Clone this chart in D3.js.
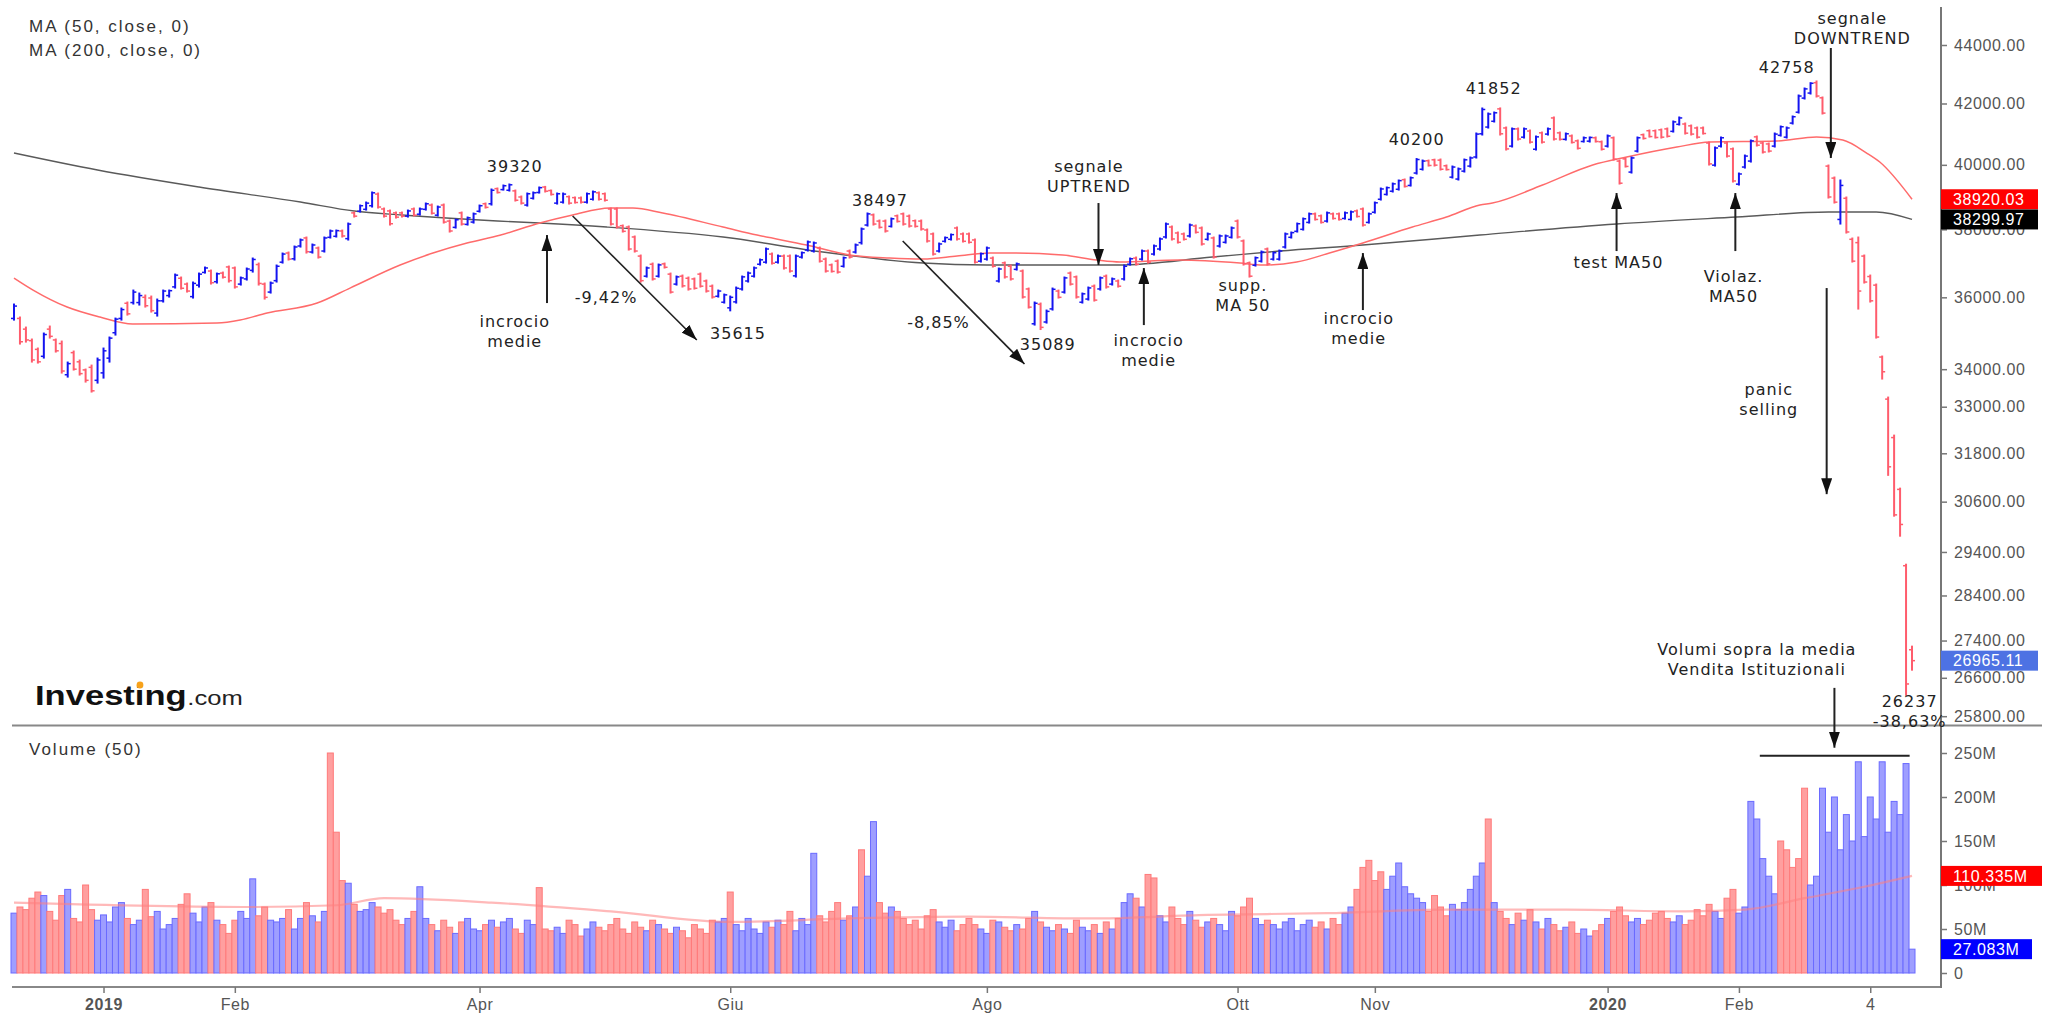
<!DOCTYPE html>
<html>
<head>
<meta charset="utf-8">
<script src="https://cdn.jsdelivr.net/npm/d3@7"></script>
<style>
  body { margin: 0; background: #fff; }
  svg { display: block; font-family: "Liberation Sans", Arial, sans-serif; }
  .ann { font-family: "DejaVu Sans", sans-serif; font-size: 16px; fill: #222; letter-spacing: 1px; }
  .axis text { font-size: 16px; fill: #555; letter-spacing: 0.6px; font-family: "Liberation Sans", Arial, sans-serif; }
  .axis line { stroke: #777; stroke-width: 1.5; }
</style>
</head>
<body>
<svg id="chart" width="2051" height="1013"></svg>
<script>
// daily bars, Dec 2018 -> Mar 2020
const openP = [
  35400,35400,35100,34780,34540,34350,35100,34800,34700,33850,
  34450,34200,33980,34050,33700,33900,34300,35000,35400,35830,
  35850,35850,36000,35980,35550,35900,36050,36300,36550,36380,
  36020,36350,36720,36760,36450,36700,36880,36850,36380,36530,
  36780,36950,36380,36150,36480,37020,37290,37120,37500,37740,
  37320,37440,37350,37760,37790,37950,37720,38500,38550,38610,
  38720,39080,38620,38560,38500,38500,38400,38620,38460,38610,
  38740,38430,38740,38250,38060,38500,38150,38220,38550,38780,
  38780,39250,39220,39200,39180,38990,38740,38950,39130,39300,
  39190,38800,38830,39000,38970,38960,38830,38920,39120,39090,
  38620,38620,38110,38070,37770,37200,36610,36960,36610,36970,
  36670,36380,36610,36550,36530,36670,36470,36320,36030,35860,
  35700,35870,36240,36470,36610,36960,37020,37260,37020,37200,
  37200,36620,37170,37380,37350,37440,37110,36940,37050,36900,
  37350,37320,37600,38130,38440,38250,38250,38090,38410,38470,
  38400,38260,38250,37980,37860,37350,37640,37700,38040,37860,
  37860,37680,37050,37110,37140,36470,37000,36900,36810,36760,
  36240,35250,35800,35300,35670,36180,36150,36700,36590,35860,
  35950,36320,36240,36610,36380,36470,36530,36960,37140,37110,
  37350,37260,37410,37770,38070,37890,37860,37800,38100,38040,
  37700,37740,37500,37610,37760,38250,37650,37000,36930,37050,
  37410,37110,37110,37470,37760,37940,38000,38210,38470,38410,
  38250,38470,38470,38330,38300,38560,38620,38210,38520,38920,
  39070,39170,39230,39530,39350,39740,39860,40130,40160,40150,
  39970,39610,39550,39800,39960,40250,41000,41220,41410,41820,
  41190,40600,41160,40890,41090,40500,41030,40990,41520,41030,
  40820,40930,40770,40750,40760,40870,40740,40600,40870,40120,
  40190,39770,40440,40970,41100,41100,41130,41160,41080,41310,
  41320,41260,41190,41190,40700,39990,40600,40700,40510,39390,
  39930,40120,40900,40700,40670,40600,40950,40890,41350,41710,
  42180,42350,42700,42190,39960,39580,38300,38950,37700,37600,
  37200,36600,36350,34330,33200,32200,30900,29080,27200
];
const highP = [
  35808,35440,35158,34825,34576,34991,35186,34825,34769,34193,
  34494,34248,34003,34111,34302,34576,34880,35410,35694,35865,
  36208,36122,36065,36036,35950,36208,36208,36672,36585,36411,
  36440,36701,36877,36789,36701,36730,36906,36877,36585,36848,
  37142,36994,36411,36440,36936,37290,37320,37498,37708,37768,
  37558,37468,37768,37978,37978,37978,38190,38526,38741,38834,
  39145,39113,38649,38587,38526,38526,38587,38649,38649,38803,
  38772,38710,38772,38282,38312,38526,38373,38495,38741,38803,
  39238,39269,39363,39394,39206,39020,39113,39145,39300,39320,
  39206,39113,39113,39020,38989,38989,39113,39175,39145,39113,
  38649,38649,38130,38100,37798,37231,36877,36994,36965,36994,
  36701,36614,36643,36585,36556,36701,36498,36353,36208,36093,
  36036,36295,36614,36730,36877,37113,37438,37290,37231,37231,
  37231,37231,37320,37648,37618,37468,37142,36965,37083,37172,
  37379,37558,38039,38497,38465,38282,38282,38343,38434,38495,
  38434,38282,38282,38009,37888,37588,37768,37858,38070,37888,
  37888,37708,37290,37468,37172,36848,37024,36936,36994,36789,
  36266,35865,35836,35637,36266,36208,36585,36730,36614,36122,
  36295,36353,36585,36643,36556,36498,36936,37142,37172,37379,
  37379,37528,37738,38190,38100,37918,37888,38160,38130,38070,
  37888,37768,37828,37828,38070,38282,37678,37024,37172,37349,
  37438,37320,37379,37888,37918,38190,38343,38495,38495,38434,
  38526,38495,38495,38526,38556,38587,38649,38495,38834,39269,
  39300,39425,39520,39551,39614,40200,40153,40153,40180,40185,
  39994,39962,39898,40185,40249,41025,41849,41683,41716,41852,
  41221,41188,41188,41188,41123,40927,41057,41188,41551,41057,
  41025,40960,40797,40895,40895,40895,40765,40960,40895,40153,
  40217,40249,40895,40992,41123,41123,41155,41188,41419,41551,
  41353,41287,41221,41221,40732,40571,40895,40732,40538,39740,
  40313,40797,40927,40732,40700,41025,41254,41221,41584,42284,
  42520,42700,42758,42217,39994,39614,39520,38989,37738,37768,
  37231,36643,36382,34357,33254,32263,30931,29115,27278
];
const lowP = [
  35354,34686,34741,34193,34166,34302,34852,34466,33895,33787,
  33976,33841,33653,33387,33626,33760,34193,34935,35354,35495,
  35808,35779,35722,35580,35467,35865,36007,36266,36237,36151,
  35979,36295,36701,36382,36411,36556,36440,36266,36353,36498,
  36730,36353,35950,36122,36440,36994,37083,37083,37468,37290,
  37290,37142,37320,37738,37768,37768,37678,38373,38526,38587,
  38680,38649,38373,38130,38343,38373,38373,38404,38434,38587,
  38465,38404,38190,37918,38039,38130,38130,38190,38526,38649,
  38741,39113,39206,39175,38865,38772,38710,38927,39113,39145,
  39051,38772,38803,38772,38803,38803,38803,38896,38896,38865,
  38130,38039,37918,37379,37320,36440,36585,36498,36585,36848,
  36122,36353,36295,36208,36237,36295,36151,35979,36007,35836,
  35615,35836,36208,36440,36585,36936,36994,36965,36994,36818,
  36730,36585,37142,37349,37320,37024,36730,36730,36701,36877,
  37142,37290,37558,38100,38130,38039,37918,38070,38221,38130,
  38070,38070,37978,37618,37231,37320,37618,37678,37678,37618,
  37588,36994,37024,37083,36877,36440,36556,36498,36789,35979,
  35694,35214,35089,35270,35637,35979,36122,36353,35979,35836,
  35922,35893,36208,36266,36353,36295,36498,36936,36936,37083,
  36994,37231,37379,37738,37678,37588,37678,37768,37888,37528,
  37678,37142,37468,37588,37738,37738,36936,36585,36906,37024,
  36936,37083,37083,37438,37738,37918,37978,38190,38282,38190,
  38221,38312,38282,38312,38282,38373,38100,38190,38495,38896,
  39051,39145,39206,39300,39332,39709,39835,39962,39962,39835,
  39835,39583,39520,39772,39930,40217,40960,41188,41386,40960,
  40474,40571,40797,40862,40700,40474,40700,40960,40797,40797,
  40797,40700,40506,40732,40732,40732,40474,40571,40153,39394,
  39930,39740,40410,40829,40895,40862,40862,40895,41057,41287,
  40992,40960,40862,40992,39994,39962,40571,40249,39457,39363,
  39898,40089,40603,40378,40410,40571,40927,40862,41320,41683,
  42150,42318,42217,41650,38958,38803,38160,37888,37024,35665,
  36411,35865,34852,33734,31247,30249,29771,26237,26762
];
const closeP = [
  35750,34750,34800,34250,34200,34950,34900,34500,33950,34150,
  34000,33880,33700,33420,34250,34500,34850,35380,35650,35530,
  36150,36050,35760,35620,35900,36180,36190,36640,36260,36180,
  36400,36670,36850,36420,36680,36580,36480,36300,36560,36820,
  37100,36400,36000,36410,36900,37260,37110,37470,37680,37330,
  37530,37170,37740,37950,37960,37800,38160,38400,38720,38800,
  39120,38680,38400,38170,38370,38400,38560,38430,38620,38780,
  38490,38680,38220,37950,38290,38160,38350,38470,38720,38670,
  39200,39130,39340,39370,38890,38800,39090,39120,39280,39170,
  39070,39090,39080,38800,38820,38830,39090,39150,38920,38890,
  38160,38070,37940,37410,37350,36480,36850,36530,36940,36870,
  36150,36590,36330,36240,36260,36320,36180,36010,36180,36070,
  36000,36260,36590,36700,36850,37090,37410,36990,37200,36850,
  36760,37200,37300,37620,37590,37050,36760,36750,36730,37150,
  37170,37530,38010,38470,38160,38060,37950,38320,38240,38160,
  38100,38090,38010,37650,37260,37560,37750,37840,37710,37640,
  37610,37020,37270,37440,36900,36820,36590,36530,36970,36010,
  35720,35830,35150,35600,36230,36000,36560,36380,36010,36100,
  36270,35920,36560,36300,36530,36320,36900,37120,36960,37350,
  37020,37500,37710,38160,37710,37610,37700,38130,37910,37560,
  37860,37170,37800,37800,38040,37770,36970,36610,37150,37320,
  36970,37300,37350,37860,37900,38170,38320,38470,38300,38210,
  38500,38330,38300,38500,38530,38390,38130,38470,38810,39240,
  39280,39400,39500,39320,39590,40170,40120,39980,39990,39860,
  39850,39930,39870,40160,40220,40990,41800,41650,41690,41000,
  40510,41160,40830,41160,40730,40900,40730,41160,40830,40820,
  41000,40720,40530,40870,40880,40750,40500,40930,40180,39420,
  39950,40220,40870,40850,40910,40880,40890,40920,41390,41520,
  41020,40990,40890,41010,40030,40540,40870,40280,39490,39710,
  40280,40770,40630,40410,40440,40990,41230,41190,41560,42250,
  42490,42680,42250,41680,38990,38830,39350,37920,37050,36180,
  36440,35900,34880,33930,31460,30280,30050,26470,26965.11
];
// volume, millions
const volume = [
  68,75,72,85,92,88,70,60,88,95,
  62,58,100,72,60,66,58,75,80,62,
  55,60,95,64,70,50,55,62,78,90,
  68,58,75,80,60,55,45,60,70,62,
  107,65,75,60,58,62,72,50,62,80,
  65,58,70,250,160,105,102,78,70,72,
  80,75,68,72,60,55,62,70,98,62,
  55,48,60,52,45,58,62,50,48,55,
  60,52,58,62,50,45,60,55,97,50,
  48,52,45,60,55,42,50,58,52,48,
  55,62,50,45,58,52,48,60,55,50,
  45,52,48,40,55,50,45,60,58,62,
  92,55,48,62,50,45,58,52,60,55,
  70,48,62,55,136,65,58,70,80,60,
  65,75,140,110,172,80,68,75,70,62,
  55,60,50,65,72,58,52,60,48,55,
  62,55,50,45,60,58,52,48,55,50,
  62,70,58,52,48,55,50,45,60,52,
  48,55,45,58,50,62,80,90,85,75,
  112,108,65,58,75,62,55,70,60,52,
  58,62,55,48,70,65,75,85,62,55,
  60,55,50,58,62,48,55,60,52,58,
  50,62,55,68,75,95,120,128,105,115,
  95,110,125,98,90,85,80,70,88,75,
  65,78,72,80,95,110,125,175,80,70,
  62,55,68,60,72,58,50,62,55,48,
  52,58,45,50,42,48,55,62,70,75,
  65,58,62,55,60,68,70,62,58,65,
  55,60,72,65,78,70,62,85,95,68,
  75,195,175,130,110,90,150,140,120,130,
  210,100,110,210,160,200,140,180,150,240,
  155,200,175,240,160,195,180,238,27.083
];
// colour of each volume bar: 1 = blue, 0 = red
const volUp = [
  1,0,0,0,0,1,0,0,0,1,
  0,0,0,0,1,1,1,1,1,0,
  1,1,0,0,1,1,1,1,0,0,
  1,1,1,0,1,0,0,0,1,1,
  1,0,0,1,1,1,0,1,1,0,
  1,0,1,0,0,0,1,0,1,1,
  1,0,0,0,0,0,1,0,1,1,
  0,1,0,0,1,0,1,1,1,0,
  1,0,1,1,0,0,1,1,0,0,
  0,1,1,0,0,0,1,1,0,0,
  0,0,0,0,0,0,1,0,1,0,
  0,1,0,0,0,0,0,0,1,1,
  0,1,1,1,1,1,1,0,1,0,
  0,1,1,1,1,0,0,0,0,1,
  0,1,0,1,1,0,0,1,0,0,
  0,0,0,0,0,1,1,1,0,0,
  0,0,1,1,0,1,0,0,1,0,
  0,1,0,1,1,0,1,0,0,1,
  1,0,1,0,1,0,1,1,0,1,
  0,0,1,1,0,0,0,1,0,0,
  1,0,1,1,1,0,0,0,1,1,
  0,1,1,1,1,1,1,1,0,0,
  1,0,0,1,1,0,0,0,0,0,
  1,1,1,1,1,1,1,0,0,0,
  0,1,1,1,1,1,1,0,1,0,
  0,1,0,1,0,1,0,1,0,0,
  1,0,0,1,1,0,0,1,0,0,
  0,1,1,0,0,0,0,0,1,1,
  0,0,0,0,0,1,1,0,0,1,
  1,1,1,1,1,1,0,0,0,0,
  0,1,1,1,1,1,1,1,1,1,
  1,1,1,1,1,1,1,1,1
];
// moving averages (bar index, value)
const ma50Idx = [0,3.2,8.9,14.4,19.9,34,37.9,42.4,50.8,56.3,64.7,70.2,75.9,81.4,88.1,93.6,99.8,103.7,108.7,118.8,124.5,132.8,140,146.7,152.3,158,163.5,167.3,175.7,181.4,185.3,195.3,205.4,209.2,214.9,220.4,226,234.3,240,245.6,247.7,256.1,264.5,270.2,278.6,284.1,295.3,302,306.4,310.4,312.6,318];
const ma50Val = [36556,36208,35722,35438,35242,35270,35354,35552,35836,36266,36936,37290,37588,37820,38190,38434,38649,38649,38495,38069,37828,37528,37231,37142,37113,37201,37290,37290,37231,37083,37024,37083,36994,36936,37024,37290,37588,38069,38373,38741,38803,39363,39994,40249,40571,40732,40765,40895,40797,40378,40089,38920.03];
const ma200Idx = [0,14,31,48,57,65,81,88,99.3,118.8,135.5,152.3,163,185,200.8,212,226,245.6,268.5,288.6,304,312,318];
const ma200Val = [40378,39835,39300,38834,38556,38434,38251,38190,38069,37767,37320,36994,36936,36936,37171,37349,37528,37828,38160,38373,38526,38526,38299.97];
const volMaIdx = [0,40,54,62,80,100,120,140,160,180,200,220,240,260,280,290,300,310,318];
const volMaVal = [80,75,77,85,80,70,58,62,64,62,66,68,72,72,70,72,85,98,110.335];

const priceTicks = [44000,42000,40000,38000,36000,34000,33000,31800,30600,29400,28400,27400,26600,25800];
const volTicks = [0,50,100,150,200,250];
const xTickIdx = [15,37,78,120,163,205,228,267,289,311];
const xTickLabels = ["2019","Feb","Apr","Giu","Ago","Ott","Nov","2020","Feb","4"];

const svg = d3.select("#chart");
const x = d3.scaleLinear().domain([-0.5, 318.5]).range([11, 1915]);
const y = d3.scaleLog().domain([25620, 45350]).range([725, 7]);
const yv = d3.scaleLinear().domain([0, 250]).range([973, 753]);

const idx = d3.range(closeP.length);
const isUp = i => closeP[i] >= openP[i];

// arrow head
svg.append("defs").append("marker")
  .attr("id", "ah").attr("viewBox", "0 0 10 10").attr("refX", 10).attr("refY", 5)
  .attr("markerWidth", 16).attr("markerHeight", 11).attr("markerUnits", "userSpaceOnUse")
  .attr("preserveAspectRatio", "none").attr("orient", "auto")
  .append("path").attr("d", "M0,0L10,5L0,10z").attr("fill", "#111");

// frame lines
svg.append("line").attr("x1", 12).attr("x2", 2042).attr("y1", 725.5).attr("y2", 725.5).attr("stroke", "#888").attr("stroke-width", 2);
svg.append("line").attr("x1", 12).attr("x2", 1941).attr("y1", 987).attr("y2", 987).attr("stroke", "#888").attr("stroke-width", 2);
svg.append("line").attr("x1", 1941).attr("x2", 1941).attr("y1", 7).attr("y2", 988).attr("stroke", "#777").attr("stroke-width", 2);

// moving averages on price
const maLine = d3.line().x(d => x(d[0])).y(d => y(d[1])).curve(d3.curveMonotoneX);
svg.append("path").datum(ma200Idx.map((d, i) => [d, ma200Val[i]]))
  .attr("d", maLine).attr("fill", "none").attr("stroke", "#5a5a5a").attr("stroke-width", 1.4);
svg.append("path").datum(ma50Idx.map((d, i) => [d, ma50Val[i]]))
  .attr("d", maLine).attr("fill", "none").attr("stroke", "#ff6b6b").attr("stroke-width", 1.5);

// OHLC bars
const bars = svg.append("g").selectAll("g").data(idx).join("g")
  .attr("stroke", i => isUp(i) ? "#1414f0" : "#ff5c6c").attr("stroke-width", 2);
bars.append("line").attr("x1", i => x(i)).attr("x2", i => x(i))
  .attr("y1", i => y(highP[i]) - 0.5).attr("y2", i => y(lowP[i]) + 0.5);
bars.append("line").attr("x1", i => x(i) - 3).attr("x2", i => x(i))
  .attr("y1", i => y(openP[i])).attr("y2", i => y(openP[i])).attr("stroke-width", 1.5);
bars.append("line").attr("x1", i => x(i)).attr("x2", i => x(i) + 3)
  .attr("y1", i => y(closeP[i])).attr("y2", i => y(closeP[i])).attr("stroke-width", 1.5);

// volume bars
svg.append("g").selectAll("rect").data(idx).join("rect")
  .attr("x", i => x(i - 0.5)).attr("width", i => x(i + 0.5) - x(i - 0.5))
  .attr("y", i => yv(volume[i])).attr("height", i => yv(0) - yv(volume[i]))
  .attr("fill", i => volUp[i] ? "#9e9eff" : "#ff9f9f")
  .attr("stroke", i => volUp[i] ? "#6a6aff" : "#ff7a7a").attr("stroke-width", 1);

const volLine = d3.line().x(d => x(d[0])).y(d => yv(d[1])).curve(d3.curveMonotoneX);
svg.append("path").datum(volMaIdx.map((d, i) => [d, volMaVal[i]]))
  .attr("d", volLine).attr("fill", "none").attr("stroke", "#ff8080").attr("stroke-opacity", 0.55).attr("stroke-width", 2.2);

// axes
const yAxis = svg.append("g").attr("class", "axis").attr("transform", "translate(1941,0)")
  .call(d3.axisRight(y).tickValues(priceTicks).tickSize(6).tickPadding(7).tickFormat(d3.format(".2f")));
const vAxis = svg.append("g").attr("class", "axis").attr("transform", "translate(1941,0)")
  .call(d3.axisRight(yv).tickValues(volTicks).tickSize(6).tickPadding(7).tickFormat(d => d === 0 ? "0" : d + "M"));
const xAxis = svg.append("g").attr("class", "axis").attr("transform", "translate(0,987)")
  .call(d3.axisBottom(x).tickValues(xTickIdx).tickSize(6).tickPadding(6).tickFormat((d, i) => xTickLabels[i]));
[yAxis, vAxis, xAxis].forEach(g => g.select(".domain").remove());
xAxis.selectAll("text").attr("font-weight", (d, i) => /^\d{4}$/.test(xTickLabels[i]) ? "bold" : "normal");

// last value markers
const priceMarks = [
  { v: 38920.03, fill: "#ff0000", w: 97 },
  { v: 38299.97, fill: "#000000", w: 97 },
  { v: 26965.11, fill: "#4d72e3", w: 97 }
];
const volMarks = [
  { v: 110.335, fill: "#ff0000", w: 101 },
  { v: 27.083, fill: "#0000ff", w: 91 }
];
function marker(m, yy, label) {
  const g = svg.append("g").attr("transform", `translate(1941,${yy})`);
  g.append("rect").attr("x", 0).attr("y", -10).attr("width", m.w).attr("height", 20).attr("fill", m.fill);
  g.append("text").attr("x", 12).attr("dy", "0.36em").attr("fill", "#fff")
    .attr("font-size", 16).attr("letter-spacing", "0.6px").text(label);
}
priceMarks.forEach(m => marker(m, y(m.v), m.v.toFixed(2)));
volMarks.forEach(m => marker(m, yv(m.v), m.v.toFixed(3) + "M"));

// legends
const legend = svg.append("g").attr("font-size", 17).attr("fill", "#333").attr("letter-spacing", "2px");
legend.append("text").attr("x", 29).attr("y", 32).text("MA (50, close, 0)");
legend.append("text").attr("x", 29).attr("y", 56).text("MA (200, close, 0)");
legend.append("text").attr("x", 29).attr("y", 755).text("Volume (50)");

// logo
const logo = svg.append("g").attr("transform", "translate(35,705) scale(1.28,1)");
logo.append("text").attr("font-size", 27).attr("font-weight", "bold").attr("fill", "#111").text("Investing");
logo.append("text").attr("x", 119).attr("font-size", 20).attr("fill", "#222").text(".com");
svg.append("circle").attr("cx", 140).attr("cy", 685).attr("r", 3.4).attr("fill", "#f7a21b");

// annotations: text anchored on (bar index, price)
const notes = [
  { t: ["39320"], i: 83.9, p: 39770 },
  { t: ["incrocio", "medie"], i: 83.9, p: 35158 },
  { t: ["-9,42%"], i: 99.2, p: 35836 },
  { t: ["35615"], i: 121.3, p: 34825 },
  { t: ["38497"], i: 145.1, p: 38710 },
  { t: ["-8,85%"], i: 154.9, p: 35130 },
  { t: ["35089"], i: 173.2, p: 34521 },
  { t: ["segnale", "UPTREND"], i: 180.1, p: 39772 },
  { t: ["incrocio", "medie"], i: 190.1, p: 34631 },
  { t: ["supp.", "MA 50"], i: 205.9, p: 36180 },
  { t: ["incrocio", "medie"], i: 225.3, p: 35242 },
  { t: ["40200"], i: 235, p: 40635 },
  { t: ["41852"], i: 247.9, p: 42318 },
  { t: ["42758"], i: 297, p: 43030 },
  { t: ["test MA50"], i: 268.8, p: 36848 },
  { t: ["Violaz.", "MA50"], i: 288.1, p: 36440 },
  { t: ["segnale", "DOWNTREND"], i: 308, p: 44741 },
  { t: ["panic", "selling"], i: 294, p: 33307 },
  { t: ["Volumi sopra la media", "Vendita Istituzionali"], i: 292, p: 27083 },
  { t: ["26237", "-38,63%"], i: 317.6, p: 25985 }
];
const noteG = svg.append("g").attr("class", "ann").attr("text-anchor", "middle");
notes.forEach(n => {
  const tx = noteG.append("text").attr("x", x(n.i)).attr("y", y(n.p));
  n.t.forEach((s, k) => tx.append("tspan").attr("x", x(n.i)).attr("dy", k === 0 ? 0 : 20).text(s));
});

// arrows in price space: [index from, price from, index to, price to, width]
const priceArrows = [
  [89.3, 35836, 89.3, 37828, 2],
  [93.6, 38404, 114.4, 34797, 1.6],
  [148.9, 37648, 169.3, 34139, 1.6],
  [181.7, 38803, 181.7, 36936, 2],
  [189.3, 35214, 189.3, 36848, 2],
  [226, 35637, 226, 37290, 2],
  [268.5, 37349, 268.5, 39113, 2],
  [288.4, 37349, 288.4, 39113, 2],
  [304.4, 43895, 304.4, 40217, 2],
  [303.7, 36266, 303.7, 30783, 2]
];
priceArrows.forEach(a => {
  svg.append("line").attr("x1", x(a[0])).attr("y1", y(a[1])).attr("x2", x(a[2])).attr("y2", y(a[3]))
    .attr("stroke", "#222").attr("stroke-width", a[4]).attr("marker-end", "url(#ah)");
});
// arrow and bracket in volume space
svg.append("line").attr("x1", x(305)).attr("y1", yv(324)).attr("x2", x(305)).attr("y2", yv(256))
  .attr("stroke", "#222").attr("stroke-width", 2).attr("marker-end", "url(#ah)");
svg.append("line").attr("x1", x(292.5)).attr("x2", x(317.6)).attr("y1", yv(247)).attr("y2", yv(247))
  .attr("stroke", "#222").attr("stroke-width", 2);
</script>
</body>
</html>
